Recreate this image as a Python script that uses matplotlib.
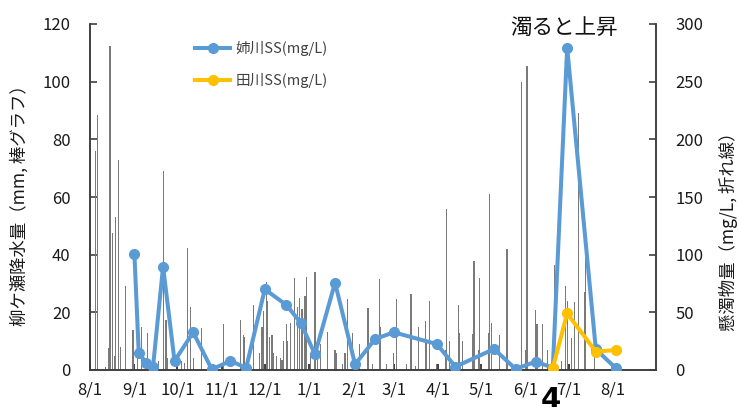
import matplotlib
matplotlib.use("Agg")
import matplotlib.pyplot as plt
import numpy as np
import pandas as pd

plt.rcParams['font.family'] = ['Noto Sans CJK JP', 'DejaVu Sans']

# ---- data ----
start_date = "2017-08-01"
# daily precipitation at 柳ケ瀬: day offset from start_date, mm
rain_day = [4, 5, 11, 13, 14, 16, 17, 18, 20, 21, 25, 30, 33, 36, 40, 41, 48, 51, 53, 54,
            64, 66, 68, 70, 72, 78, 93, 105, 107, 108, 114, 118, 120, 121, 123, 124, 125, 127,
            128, 130, 133, 134, 135, 137, 138, 140, 143, 145, 146, 148, 150, 151, 154, 157,
            159, 161, 166, 171, 172, 176, 178, 180, 183, 188, 194, 197, 202, 203, 207, 212,
            214, 221, 224, 227, 229, 234, 235, 237, 242, 248, 249, 251, 257, 258, 260, 267,
            268, 271, 272, 278, 279, 280, 286, 291, 301, 304, 305, 311, 312, 316, 319, 324,
            329, 332, 333, 336, 338, 341, 345, 346, 352]
rain_mm = [76, 88.5, 1, 7.5, 112.5, 47.5, 5, 53, 73, 8, 29, 14, 6.5, 15, 12.7, 2, 3, 69, 17.3, 4,
           3, 2.5, 42.4, 22, 4, 14.5, 16, 17.3, 12, 11.5, 22.5, 6, 15, 20.5, 30.5, 24, 11.5, 12.3,
           6, 5, 4, 3.5, 10, 16, 10, 16.4, 31.8, 22, 25, 21, 25.5, 32.4, 6, 33.9,
           10, 9, 13.3, 7, 5.8, 2, 5.8, 24.5, 12.7, 9, 21.4, 2, 31.4, 15, 2, 6,
           24.6, 2, 26.4, 1.5, 15, 17, 10, 24, 2, 7, 56, 10, 22.5, 13, 10, 12.4,
           37.8, 7, 32, 13, 61, 16.4, 12, 42, 100, 7, 105.5, 20.8, 16, 16, 7, 36.4,
           3, 29, 24, 11, 23.7, 89, 27, 51, 8.7]

ane_dates = ["2017-09-01", "2017-09-04", "2017-09-09", "2017-09-14", "2017-09-21", "2017-09-29",
             "2017-10-12", "2017-10-25", "2017-11-07", "2017-11-18", "2017-12-01", "2017-12-16",
             "2017-12-26", "2018-01-05", "2018-01-19", "2018-02-02", "2018-02-16", "2018-03-01",
             "2018-03-31", "2018-04-13", "2018-05-10", "2018-05-25", "2018-06-08", "2018-06-20",
             "2018-06-30", "2018-07-20", "2018-08-03"]
ane_ss = [100.5, 15, 6.3, 2.9, 89.6, 7.8, 32.7, 0.6, 7.8, 2, 70, 56.4, 41, 13.6, 75.7, 4.9,
          26.9, 32.7, 22.5, 2.9, 18.2, 0.9, 7.2, 2, 279.5, 18, 1.5]

ta_dates = ["2018-06-20", "2018-06-30", "2018-07-20", "2018-08-03"]
ta_ss = [2, 49, 16, 17.3]

label_ane = "姉川SS(mg/L)"
label_ta = "田川SS(mg/L)"
ylabel_left = "柳ケ瀬降水量（mm, 棒グラフ）"
ylabel_right = "懸濁物量（mg/L, 折れ線）"
title_text = "濁ると上昇"
bottom_mark = "4"

# ---- figure ----
W, H, DPI = 739, 407, 100
fig = plt.figure(figsize=(W / DPI, H / DPI), dpi=DPI)
L, R, B, T = 90, 656, 370, 24
ax = fig.add_axes([L / W, 1 - B / H, (R - L) / W, (B - T) / H])
ax2 = ax.twinx()

t0 = pd.Timestamp(start_date)
rain_x = [t0 + pd.Timedelta(days=d) for d in rain_day]
ax.bar(rain_x, rain_mm, width=0.8, color='#7a7a7a', linewidth=0, zorder=2)

ane_x = pd.to_datetime(ane_dates)
ta_x = pd.to_datetime(ta_dates)
ax2.plot(ane_x, ane_ss, color='#5B9BD5', lw=2.9, marker='o', ms=7, label=label_ane, zorder=3)
ax2.plot(ta_x, ta_ss, color='#FFC000', lw=2.9, marker='o', ms=7, label=label_ta, zorder=4)

ax.set_xlim(pd.Timestamp("2017-08-01"), pd.Timestamp("2018-08-31"))
ax.set_ylim(0, 120)
ax2.set_ylim(0, 300)
ax.set_yticks(np.arange(0, 121, 20))
ax2.set_yticks(np.arange(0, 301, 50))

ticks = pd.date_range("2017-08-01", "2018-08-01", freq="MS")
ax.set_xticks(ticks)
ax.set_xticklabels([f"{d.month}/{d.day}" for d in ticks])

for a in (ax, ax2):
    a.spines['top'].set_visible(False)
    for s in ('left', 'right', 'bottom'):
        a.spines[s].set_color('#404040')
        a.spines[s].set_linewidth(1.2)
    a.patch.set_visible(False)

ax.tick_params(axis='y', direction='in', length=5, width=1.2, color='#404040', labelsize=12, pad=14, labelcolor='#1a1a1a')
ax2.tick_params(axis='y', direction='in', length=5, width=1.2, color='#404040', labelsize=12, pad=14, labelcolor='#1a1a1a')
ax.tick_params(axis='x', direction='in', length=4, width=1.2, color='#202020', labelsize=12, pad=8, labelcolor='#1a1a1a')

ax.set_ylabel(ylabel_left, fontsize=12.5, color='#1a1a1a')
ax.yaxis.set_label_coords(-(L - 29) / (R - L), (B - 201) / (B - T))
ax2.set_ylabel(ylabel_right, fontsize=12.5, color='#1a1a1a', rotation=90)
ax2.yaxis.set_label_coords((719 - L) / (R - L), (B - 227) / (B - T))

fig.text(564 / W, 1 - 28 / H, title_text, fontsize=15.5, ha='center', va='center', color='#111111')
fig.text(551 / W, 1 - 386 / H, bottom_mark, fontsize=21, fontweight='bold', ha='center', va='top',
         color='black', family='DejaVu Sans')

leg = ax2.legend(loc='upper left', bbox_to_anchor=((195 - L) / (R - L), (B - 41) / (B - T)),
                 frameon=False, fontsize=10.5, handlelength=2.4, handletextpad=0.4,
                 labelspacing=1.16, borderaxespad=0, borderpad=0)
for txt in leg.get_texts():
    txt.set_color('#404040')

fig.savefig("out.png", dpi=DPI)
